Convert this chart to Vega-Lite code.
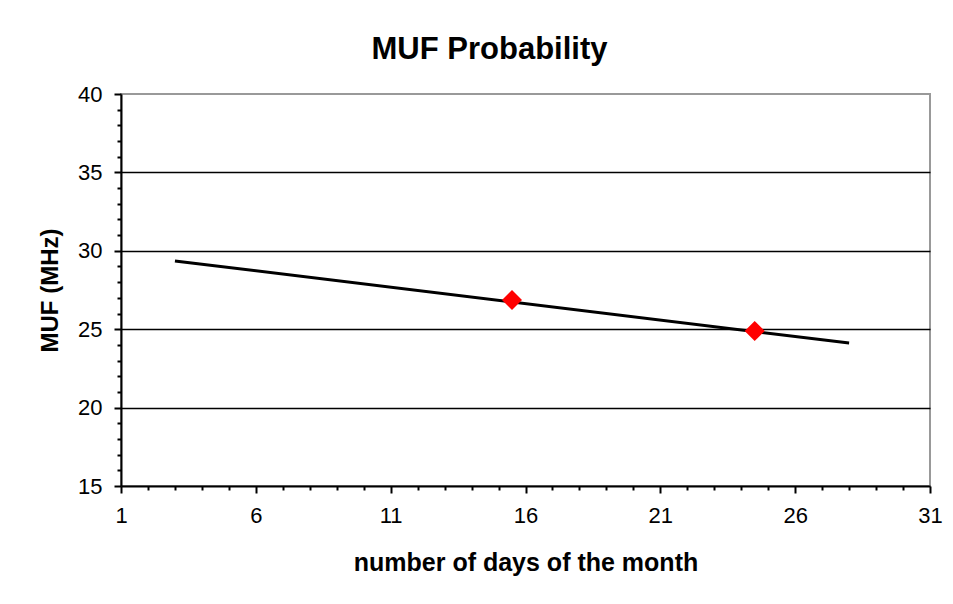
{
  "$schema": "https://vega.github.io/schema/vega-lite/v6.json",
  "width": 809,
  "height": 392,
  "autosize": "none",
  "padding": {"left": 121, "top": 94, "right": 23, "bottom": 118},
  "background": "white",
  "title": {
    "text": "MUF Probability",
    "font": "Liberation Sans",
    "fontSize": 31,
    "fontWeight": "bold",
    "color": "black",
    "anchor": "middle",
    "dx": -36,
    "baseline": "alphabetic",
    "offset": -7
  },
  "datasets": {
    "fit": [
      {"day": 3, "muf": 29.35},
      {"day": 28, "muf": 24.12}
    ],
    "obs": [
      {"day": 15.5, "muf": 26.86},
      {"day": 24.5, "muf": 24.89}
    ]
  },
  "layer": [
    {
      "data": {"name": "fit"},
      "mark": {"type": "line", "color": "black", "strokeWidth": 3},
      "encoding": {
        "x": {
          "field": "day",
          "type": "quantitative",
          "scale": {"domain": [1, 31], "nice": false, "zero": false},
          "axis": {
            "values": [1,2,3,4,5,6,7,8,9,10,11,12,13,14,15,16,17,18,19,20,21,22,23,24,25,26,27,28,29,30,31],
            "tickCount": 200,
            "format": "d",
            "labelExpr": "(datum.value - 1) % 5 === 0 ? datum.label : ''",
            "tickSize": {"condition": {"test": "(datum.value - 1) % 5 === 0", "value": 7}, "value": 4},
            "grid": false,
            "labelFlush": false,
            "labelOverlap": false,
            "labelPadding": 12,
            "title": "number of days of the month",
            "titleFontSize": 25,
            "titleY": 84,
            "titleBaseline": "alphabetic"
          }
        },
        "y": {
          "field": "muf",
          "type": "quantitative",
          "scale": {"domain": [15, 40], "nice": false, "zero": false},
          "axis": {
            "values": [15,16,17,18,19,20,21,22,23,24,25,26,27,28,29,30,31,32,33,34,35,36,37,38,39,40],
            "tickCount": 200,
            "format": "d",
            "labelExpr": "datum.value % 5 === 0 ? datum.label : ''",
            "tickSize": {"condition": {"test": "datum.value % 5 === 0", "value": 7}, "value": 4},
            "grid": true,
            "gridOpacity": {"condition": {"test": "datum.value % 5 === 0 && datum.value > 15 && datum.value < 40", "value": 1}, "value": 0},
            "labelOverlap": false,
            "labelPadding": 12,
            "title": "MUF (MHz)",
            "titleX": -64,
            "titleY": 196,
            "titleAlign": "center",
            "titleBaseline": "alphabetic",
            "titleAngle": -90
          }
        }
      }
    },
    {
      "data": {"name": "obs"},
      "mark": {"type": "point", "shape": "diamond", "filled": true, "color": "#ff0000", "opacity": 1, "size": 400},
      "encoding": {
        "x": {"field": "day", "type": "quantitative"},
        "y": {"field": "muf", "type": "quantitative"}
      }
    }
  ],
  "config": {
    "view": {"stroke": "#999999", "strokeWidth": 2},
    "axis": {
      "domainColor": "black",
      "domainWidth": 2,
      "tickColor": "black",
      "tickWidth": 2,
      "gridColor": "black",
      "gridWidth": 1.5,
      "labelFont": "Liberation Sans",
      "labelFontSize": 22,
      "labelColor": "black",
      "titleFont": "Liberation Sans",
      "titleFontSize": 24,
      "titleFontWeight": "bold",
      "titleColor": "black"
    }
  }
}
